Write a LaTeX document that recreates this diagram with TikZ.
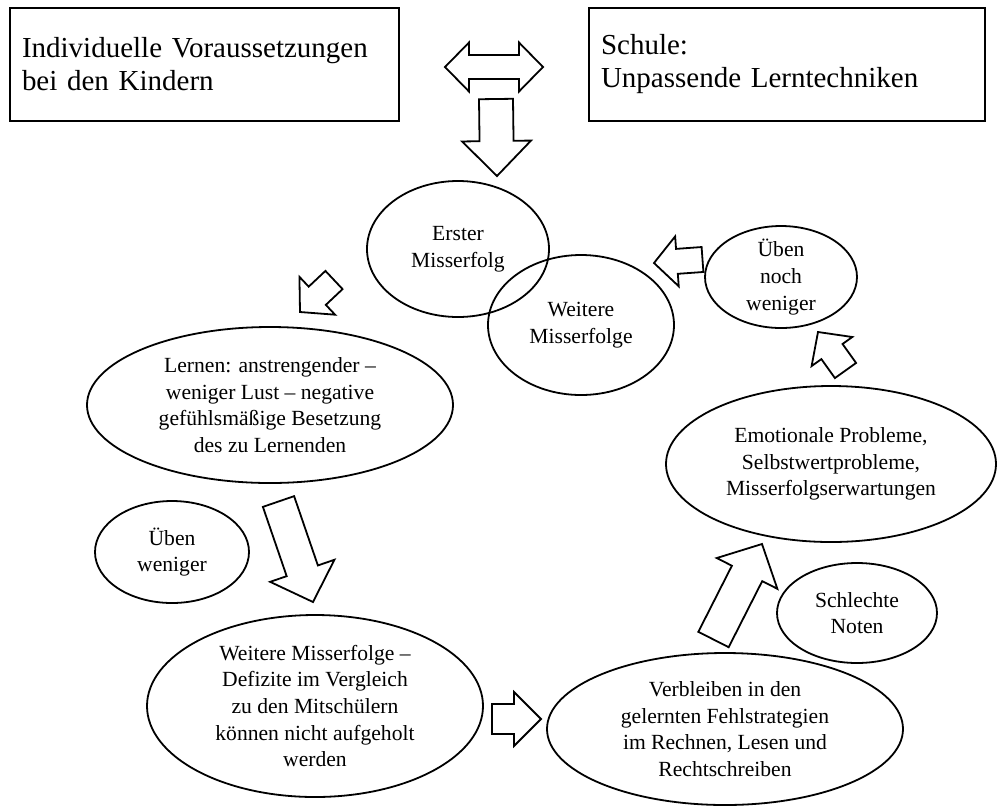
\documentclass[tikz,border=0pt]{standalone}
\usepackage{fontspec}
\setmainfont{Liberation Serif}
\usetikzlibrary{shapes.geometric,calc}

% hollow block arrow from a tail point to a tip point
% #3 half shaft width, #4 half head width, #5 head length
\newcommand{\blockarrow}[5]{%
  \coordinate (hb) at ($(#2)!#5!(#1)$);
  \draw[blk] ($(#1)!#3!90:(#2)$) -- ($(hb)!#3!90:(#2)$) -- ($(hb)!#4!90:(#2)$)
    -- (#2) -- ($(hb)!#4!-90:(#2)$) -- ($(hb)!#3!-90:(#2)$)
    -- ($(#1)!#3!-90:(#2)$) -- cycle;
}

\begin{document}
\begin{tikzpicture}[
    x=0.5pt, y=-0.5pt,
    box/.style={draw,line width=0.9pt,align=left,inner xsep=6pt,
                font=\fontsize{14.5}{16.5}\selectfont},
    ell/.style={draw,ellipse,line width=0.9pt,inner sep=-4pt,align=center,
                font=\fontsize{10.8}{13.3}\selectfont},
    blk/.style={draw,line width=0.9pt,fill=white,line join=miter},
  ]
  \useasboundingbox (0,0) rectangle (997,805);

  % --- starting conditions ---
  \node[box,text width=182.5pt,minimum height=56.5pt] (kids) at (204.5,64.5)
    {Individuelle Voraussetzungen\\bei den Kindern};
  \node[box,text width=186pt,minimum height=56.5pt] (school) at (787,64.5)
    {Schule:\\Unpassende Lerntechniken};

  % --- the cycle ---
  \node[ell,minimum width=91pt,minimum height=68pt] (first) at (458,249)
    {Erster\\Misserfolg};
  \node[ell,minimum width=93pt,minimum height=70pt] (more) at (581,325)
    {Weitere\\Misserfolge};
  \node[ell,minimum width=76pt,minimum height=51pt] (evenless) at (781,277)
    {Üben\\noch\\weniger};
  \node[ell,minimum width=183pt,minimum height=78pt] (learn) at (270,405)
    {Lernen: anstrengender --\\weniger Lust -- negative\\gefühlsmäßige Besetzung\\des zu Lernenden};
  \node[ell,minimum width=77pt,minimum height=51pt] (less) at (172,552)
    {Üben\\weniger};
  \node[ell,minimum width=165pt,minimum height=78pt] (emo) at (831,464)
    {Emotionale Probleme,\\Selbstwertprobleme,\\Misserfolgserwartungen};
  \node[ell,minimum width=80pt,minimum height=50pt] (marks) at (857,613)
    {Schlechte\\Noten};
  \node[ell,minimum width=168pt,minimum height=91pt] (deficit) at (315,706)
    {Weitere Misserfolge --\\Defizite im Vergleich\\zu den Mitschülern\\können nicht aufgeholt\\werden};
  \node[ell,minimum width=178pt,minimum height=76pt] (stay) at (725,729)
    {Verbleiben in den\\gelernten Fehlstrategien\\im Rechnen, Lesen und\\Rechtschreiben};

  % --- arrow end points ---
  \coordinate (dl) at (445,67);   \coordinate (dr) at (543,67);
  \coordinate (a0t) at (496,99);  \coordinate (a0p) at (497,176);
  \coordinate (a1t) at (334,280); \coordinate (a1p) at (300,312);
  \coordinate (a2t) at (278.5,501.5); \coordinate (a2p) at (313,602);
  \coordinate (a3t) at (492,719); \coordinate (a3p) at (541,719);
  \coordinate (a4t) at (713.5,639.5); \coordinate (a4p) at (762,544);
  \coordinate (a5t) at (845.5,370.5); \coordinate (a5p) at (818,332);
  \coordinate (a6t) at (702.5,259.5); \coordinate (a6p) at (654,263);

  % double arrow between the two boxes
  \coordinate (hl) at ($(dl)!12pt!(dr)$);
  \coordinate (hr) at ($(dr)!12pt!(dl)$);
  \draw[blk] (dl) -- ($(hl)!12.25pt!90:(dr)$) -- ($(hl)!6pt!90:(dr)$)
    -- ($(hr)!6pt!-90:(dl)$) -- ($(hr)!12.25pt!-90:(dl)$) -- (dr)
    -- ($(hr)!12.25pt!90:(dl)$) -- ($(hr)!6pt!90:(dl)$)
    -- ($(hl)!6pt!-90:(dr)$) -- ($(hl)!12.25pt!-90:(dr)$) -- cycle;

  \blockarrow{a0t}{a0p}{8.5pt}{17.25pt}{17.5pt}
  \blockarrow{a1t}{a1p}{6.25pt}{13pt}{11.85pt}
  \blockarrow{a2t}{a2p}{8.25pt}{17pt}{16.5pt}
  \blockarrow{a3t}{a3p}{7.5pt}{13.5pt}{13.5pt}
  \blockarrow{a4t}{a4p}{8.5pt}{17pt}{16.5pt}
  \blockarrow{a5t}{a5p}{6.5pt}{12.5pt}{12pt}
  \blockarrow{a6t}{a6p}{6.25pt}{12.5pt}{11.5pt}

\end{tikzpicture}
\end{document}
